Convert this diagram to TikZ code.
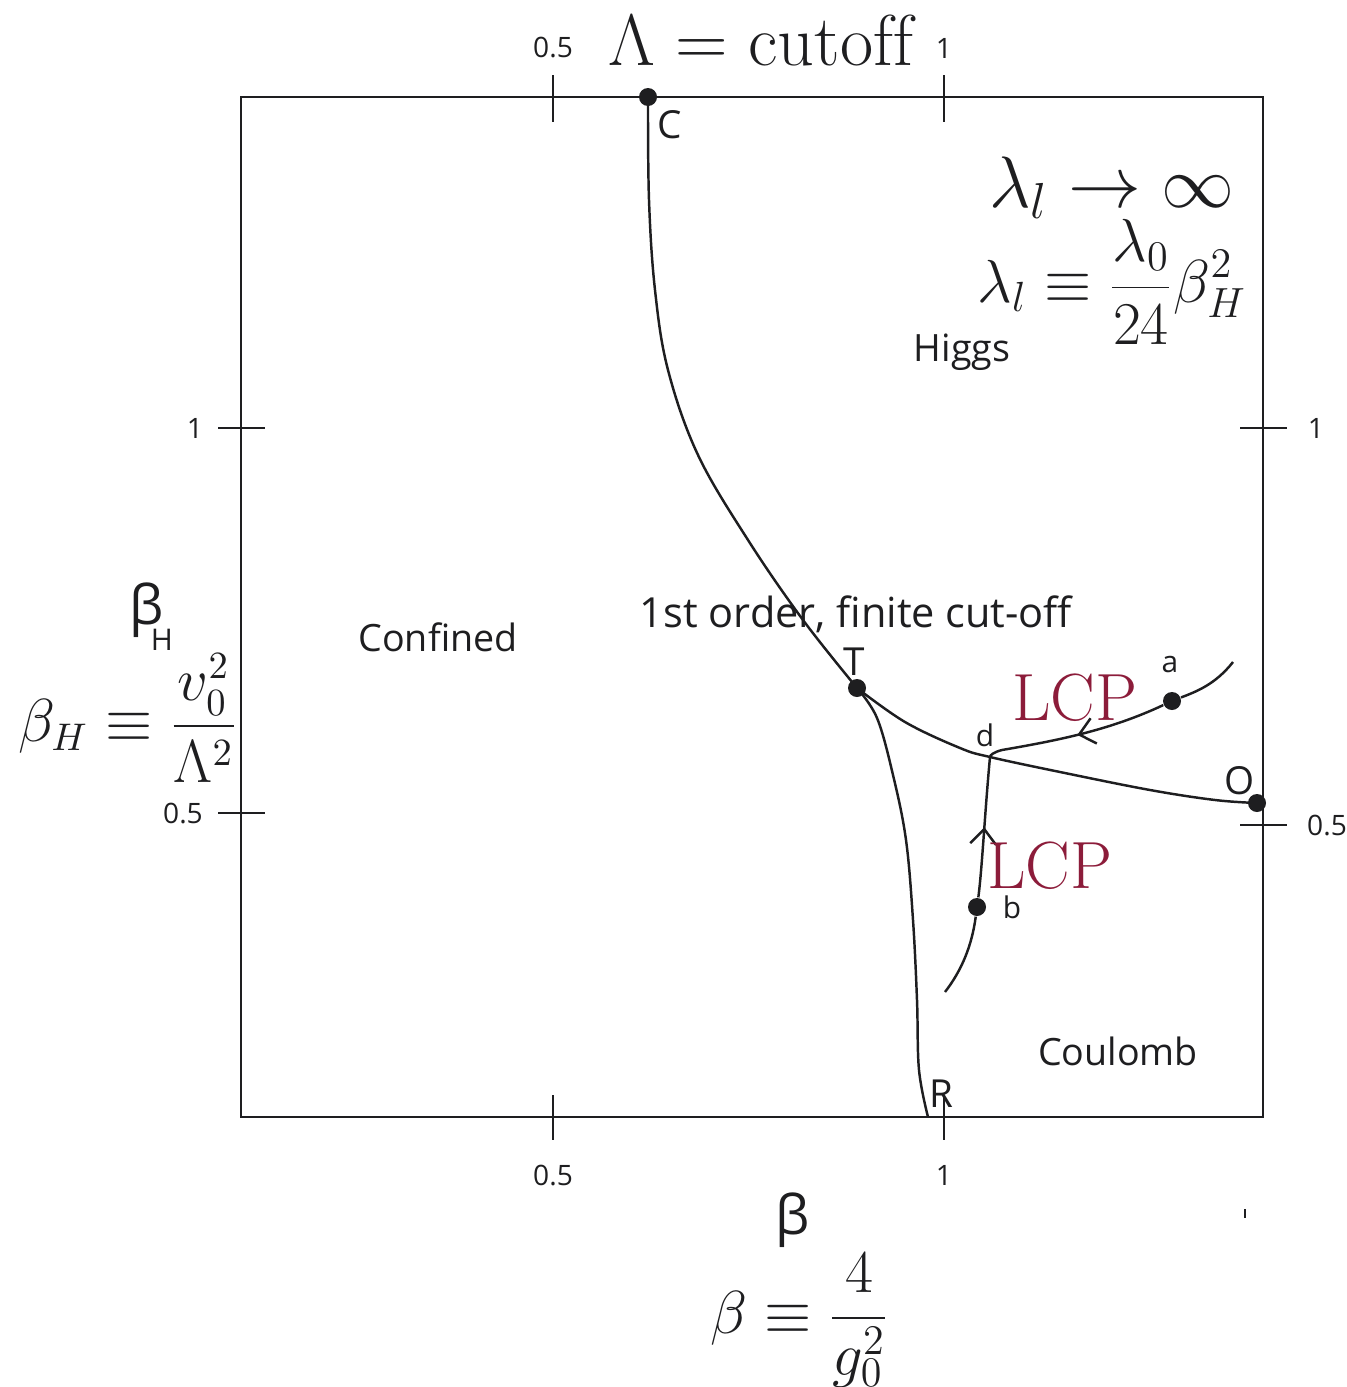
\documentclass[tikz,border=0pt]{standalone}
\usepackage{fontspec}
\newfontfamily\labfont{Open Sans}
\usetikzlibrary{arrows.meta,decorations.markings}
\definecolor{inkdark}{RGB}{30,30,32}
\definecolor{lcpred}{RGB}{140,28,58}
\tikzset{
  frame/.style={draw=inkdark,line width=0.7pt},
  axtick/.style={draw=inkdark,line width=0.7pt},
  ticklbl/.style={font=\labfont\fontsize{8}{9}\selectfont,text=inkdark},
  region/.style={font=\labfont\fontsize{10.7}{13}\selectfont,text=inkdark},
  ptlbl/.style={font=\labfont\fontsize{11}{13}\selectfont,text=inkdark},
  smlbl/.style={font=\labfont\fontsize{8.5}{10}\selectfont,text=inkdark},
  dot/.style={circle,fill=inkdark,inner sep=0pt,minimum size=1.8mm},
  line/.style={draw=inkdark,line width=0.7pt},
  lcp/.style={line,postaction={decorate},decoration={markings,
      mark=at position 0.5 with {\arrow{Straight Barb[length=1.5mm,width=2.6mm]}}}},
  lcptext/.style={font=\fontsize{19}{21}\selectfont,text=lcpred},
  eq/.style={text=inkdark}
}
\begin{document}
\begin{tikzpicture}[x=0.1mm,y=-0.1mm]
  \useasboundingbox (0,0) rectangle (1347,1387);
  % frame and ticks
  \draw[frame] (241,97) rectangle (1263,1117);
  \foreach \xx/\tl in {553/0.5,944/1} {
    \draw[axtick] (\xx,75) -- (\xx,122);
    \draw[axtick] (\xx,1095) -- (\xx,1140);
    \node[ticklbl] (top\tl) at (\xx,48) {\tl};
    \node[ticklbl] (bot\tl) at (\xx,1175) {\tl};
  }
  \draw[axtick] (218,428) -- (265,428);
  \draw[axtick] (218,813) -- (265,813);
  \draw[axtick] (1240,428) -- (1287,428);
  \draw[axtick] (1240,825) -- (1287,825);
  \node[ticklbl] (lft1) at (195,428) {1};
  \node[ticklbl] (lft05) at (183,813) {0.5};
  \node[ticklbl] (rgt1) at (1316,428) {1};
  \node[ticklbl] (rgt05) at (1327,825) {0.5};
  \draw[axtick] (1245,1209) -- (1245,1218);

  % axis titles
  \node[eq,font=\fontsize{20.5}{24}\selectfont] (cutoff) at (761,40) {$\Lambda = \mathrm{cutoff}$};
  \node[text=inkdark,font=\labfont\fontsize{15.5}{17}\selectfont] (bhsym) at (147,610) {β};
  \node[text=inkdark,font=\labfont\fontsize{8.5}{10}\selectfont] (bhsub) at (162,640) {H};
  \node[eq,font=\fontsize{16.3}{20}\selectfont] (bhdef) at (128,718) {$\displaystyle \beta_H \equiv \frac{v_0^2}{\Lambda^2}$};
  \node[text=inkdark,font=\labfont\fontsize{15.5}{17}\selectfont] (bsym) at (793,1220) {β};
  \node[eq,font=\fontsize{16.5}{20}\selectfont] (bdef) at (800,1320) {$\displaystyle \beta \equiv \frac{4}{g_0^2}$};
  \node[eq,font=\fontsize{22}{25}\selectfont] (lim) at (1112,188) {$\lambda_l \rightarrow \infty$};
  \node[eq,font=\fontsize{16.8}{20}\selectfont] (ldef) at (1112,282) {$\displaystyle \lambda_l \equiv \frac{\lambda_0}{24}\beta_H^2$};

  % regions
  \node[region] (higgs) at (962,352) {Higgs};
  \node[region] (conf) at (438,637) {Confined};
  \node[region] (coul) at (1118,1051) {Coulomb};
  \node[region,font=\labfont\fontsize{11.8}{14}\selectfont] (first) at (856,614) {1st order, finite cut-off};

  % points
  \node[dot] (C) at (648,97) {};
  \node[dot] (T) at (857,688) {};
  \node[dot] (O) at (1257,803) {};
  \node[dot] (a) at (1172,701) {};
  \node[dot] (b) at (977,907) {};
  \coordinate (d) at (990,757);
  \coordinate (R) at (928,1117);
  \coordinate (aend) at (1233,662);
  \coordinate (bend) at (945,992);
  \node[ptlbl] (Clbl) at (670,125) {C};
  \node[ptlbl] (Tlbl) at (854,662) {T};
  \node[ptlbl] (Olbl) at (1240,781) {O};
  \node[ptlbl] (Rlbl) at (941,1094) {R};
  \node[smlbl] (albl) at (1170,665) {a};
  \node[smlbl] (blbl) at (1012,907) {b};
  \node[smlbl] (dlbl) at (985,735) {d};

  % transition lines
  \draw[line] plot[smooth,tension=0.6] coordinates {(C) (649,200) (655,290) (668,370) (698,455) (748,540) (803,620) (T)};
  \draw[line] plot[smooth,tension=0.6] coordinates {(T) (905,722) (960,748) (d) (1060,772) (1150,790) (1215,800) (O)};
  \draw[line] plot[smooth,tension=0.6] coordinates {(T) (877,718) (893,775) (906,840) (913,920) (917,1000) (919,1070) (R)};

  % LCP lines
  \draw[line] (aend) .. controls (1215,685) and (1195,692) .. (a);
  \draw[lcp] (a) .. controls (1110,730) and (1060,740) .. (1002,750) .. controls (994,752) and (990,755) .. (d);
  \draw[lcp] (b) .. controls (982,870) and (985,810) .. (d);
  \draw[line] (b) .. controls (972,945) and (962,970) .. (bend);
  \node[lcptext] (lcp1) at (1075,698) {LCP};
  \node[lcptext] (lcp2) at (1050,866) {LCP};
\end{tikzpicture}
\end{document}
